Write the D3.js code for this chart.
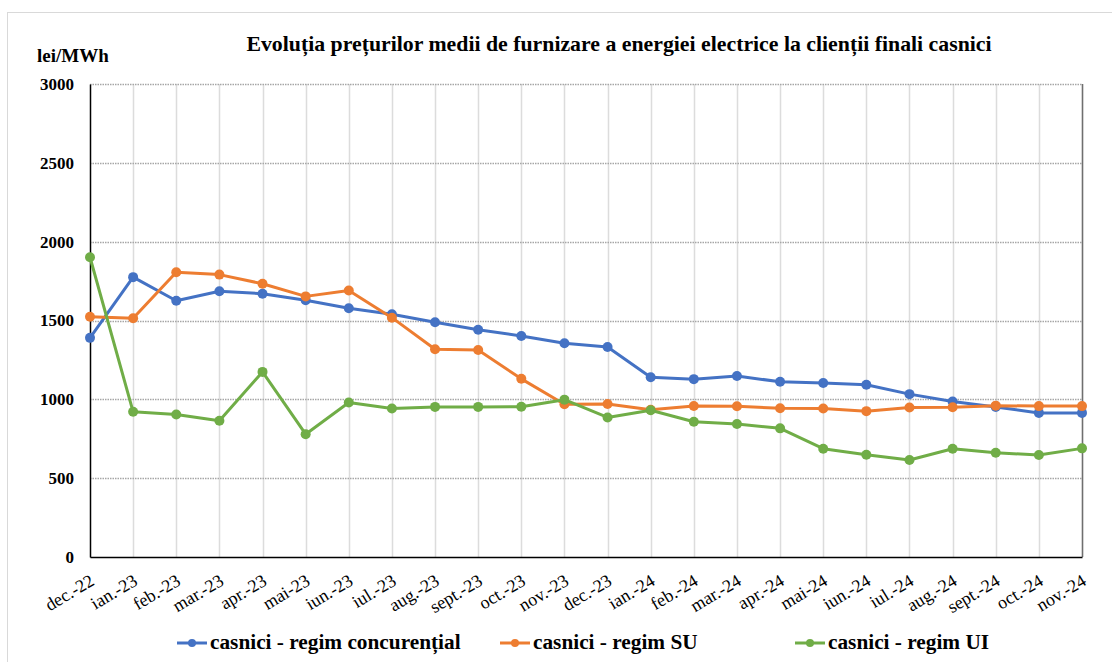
<!DOCTYPE html>
<html>
<head>
<meta charset="utf-8">
<script src="https://cdn.jsdelivr.net/npm/d3@7"></script>
<style>
  body { margin: 0; background: #fff; }
  svg text { font-family: "Liberation Serif", "Times New Roman", serif; }
</style>
</head>
<body>
<script>
// month labels
var months = ["dec.-22", "ian.-23", "feb.-23", "mar.-23", "apr.-23", "mai-23", "iun.-23", "iul.-23",
  "aug.-23", "sept.-23", "oct.-23", "nov.-23", "dec.-23", "ian.-24", "feb.-24", "mar.-24",
  "apr.-24", "mai-24", "iun.-24", "iul.-24", "aug.-24", "sept.-24", "oct.-24", "nov.-24"];

// lei/MWh
var concurential = [1390, 1775, 1625, 1685, 1670, 1628, 1578, 1540, 1489, 1441, 1402, 1356, 1332,
  1140, 1128, 1148, 1111, 1104, 1092, 1033, 986, 952, 914, 914];
var regimSU = [1524, 1514, 1806, 1791, 1733, 1653, 1690, 1518, 1318, 1313, 1130, 969, 970,
  934, 958, 956, 943, 942, 925, 948, 950, 960, 957, 957];
var regimUI = [1901, 921, 904, 864, 1174, 779, 980, 942, 952, 952, 953, 998, 885,
  931, 858, 843, 816, 687, 649, 615, 687, 661, 647, 689];

var yTicks = [0, 500, 1000, 1500, 2000, 2500, 3000];

var series = [
  {name: "casnici - regim concurențial", color: "#4472C4", values: concurential},
  {name: "casnici - regim SU", color: "#ED7D31", values: regimSU},
  {name: "casnici - regim UI", color: "#70AD47", values: regimUI}
];

var width = 1112, height = 662;
var margin = {top: 84, right: 30, bottom: 105, left: 90};
var w = width - margin.left - margin.right,
    h = height - margin.top - margin.bottom;

var svg = d3.select("body").append("svg")
  .attr("width", width)
  .attr("height", height);

// outer chart border
svg.append("rect")
  .attr("x", 7.5).attr("y", 12.5)
  .attr("width", width + 10).attr("height", height + 10)
  .attr("fill", "none").attr("stroke", "#d9d9d9");

svg.append("text")
  .attr("x", 619).attr("y", 51)
  .attr("text-anchor", "middle")
  .attr("font-size", "21.8px").attr("font-weight", "bold")
  .text("Evoluția prețurilor medii de furnizare a energiei electrice la clienții finali casnici");

svg.append("text")
  .attr("x", 37).attr("y", 62)
  .attr("font-size", "19px").attr("font-weight", "bold")
  .text("lei/MWh");

var g = svg.append("g")
  .attr("transform", "translate(" + margin.left + "," + margin.top + ")");

var x = d3.scalePoint().domain(months).range([0, w]);
var y = d3.scaleLinear().domain([0, 3000]).range([h, 0]);

// vertical gridlines
g.selectAll(".vgrid")
  .data(months.slice(1))
  .enter().append("line")
  .attr("x1", function(d) { return Math.round(x(d)) + 0.5; })
  .attr("x2", function(d) { return Math.round(x(d)) + 0.5; })
  .attr("y1", 0).attr("y2", h)
  .attr("stroke", "#dcdcdc").attr("stroke-width", 1.5);

// horizontal dotted gridlines
g.selectAll(".hgrid")
  .data(yTicks.slice(1))
  .enter().append("line")
  .attr("x1", 0).attr("x2", w)
  .attr("y1", function(d) { return Math.round(y(d)) + 0.5; })
  .attr("y2", function(d) { return Math.round(y(d)) + 0.5; })
  .attr("stroke", "#a6a6a6").attr("stroke-width", 1.5)
  .attr("stroke-dasharray", "1.5,1");

// right border
g.append("line")
  .attr("x1", w + 0.5).attr("x2", w + 0.5)
  .attr("y1", 0).attr("y2", h)
  .attr("stroke", "#6f6f6f").attr("stroke-width", 1.5);

// y axis
var yAxis = g.append("g")
  .call(d3.axisLeft(y).tickValues(yTicks).tickFormat(d3.format("d")).tickSize(0).tickPadding(16));
yAxis.attr("font-family", null);
yAxis.select(".domain").attr("stroke", "#000").attr("stroke-width", 1.5);
yAxis.selectAll("text")
  .attr("font-size", "17px").attr("font-weight", "bold").attr("fill", "#000");

// x axis
var xAxis = g.append("g")
  .attr("transform", "translate(0," + h + ")")
  .call(d3.axisBottom(x).tickSize(0).tickPadding(0));
xAxis.attr("font-family", null);
xAxis.select(".domain").attr("stroke", "#000").attr("stroke-width", 1.5);
xAxis.selectAll("text")
  .attr("font-size", "18px").attr("fill", "#000")
  .attr("text-anchor", "end")
  .attr("y", 0)
  .attr("dy", "0")
  .attr("transform", "translate(5,27) rotate(-31)");

var line = d3.line()
  .x(function(d, i) { return x(months[i]); })
  .y(function(d) { return y(d); });

series.forEach(function(s) {
  g.append("path")
    .datum(s.values)
    .attr("fill", "none")
    .attr("stroke", s.color)
    .attr("stroke-width", 3)
    .attr("stroke-linejoin", "round")
    .attr("d", line);

  g.selectAll(".dot")
    .data(s.values)
    .enter().append("circle")
    .attr("cx", function(d, i) { return x(months[i]); })
    .attr("cy", function(d) { return y(d); })
    .attr("r", 5)
    .attr("fill", s.color);
});

// legend
var legendX = [177, 500, 795];
var legend = svg.selectAll(".legend")
  .data(series)
  .enter().append("g")
  .attr("transform", function(d, i) { return "translate(" + legendX[i] + ",643)"; });

legend.append("line")
  .attr("x1", 0).attr("x2", 30)
  .attr("y1", 0).attr("y2", 0)
  .attr("stroke", function(d) { return d.color; })
  .attr("stroke-width", 3);
legend.append("circle")
  .attr("cx", 15).attr("cy", 0).attr("r", 4)
  .attr("fill", function(d) { return d.color; });
legend.append("text")
  .attr("x", 33).attr("y", 6)
  .attr("font-size", "21.3px").attr("font-weight", "bold")
  .text(function(d) { return d.name; });
</script>
</body>
</html>
